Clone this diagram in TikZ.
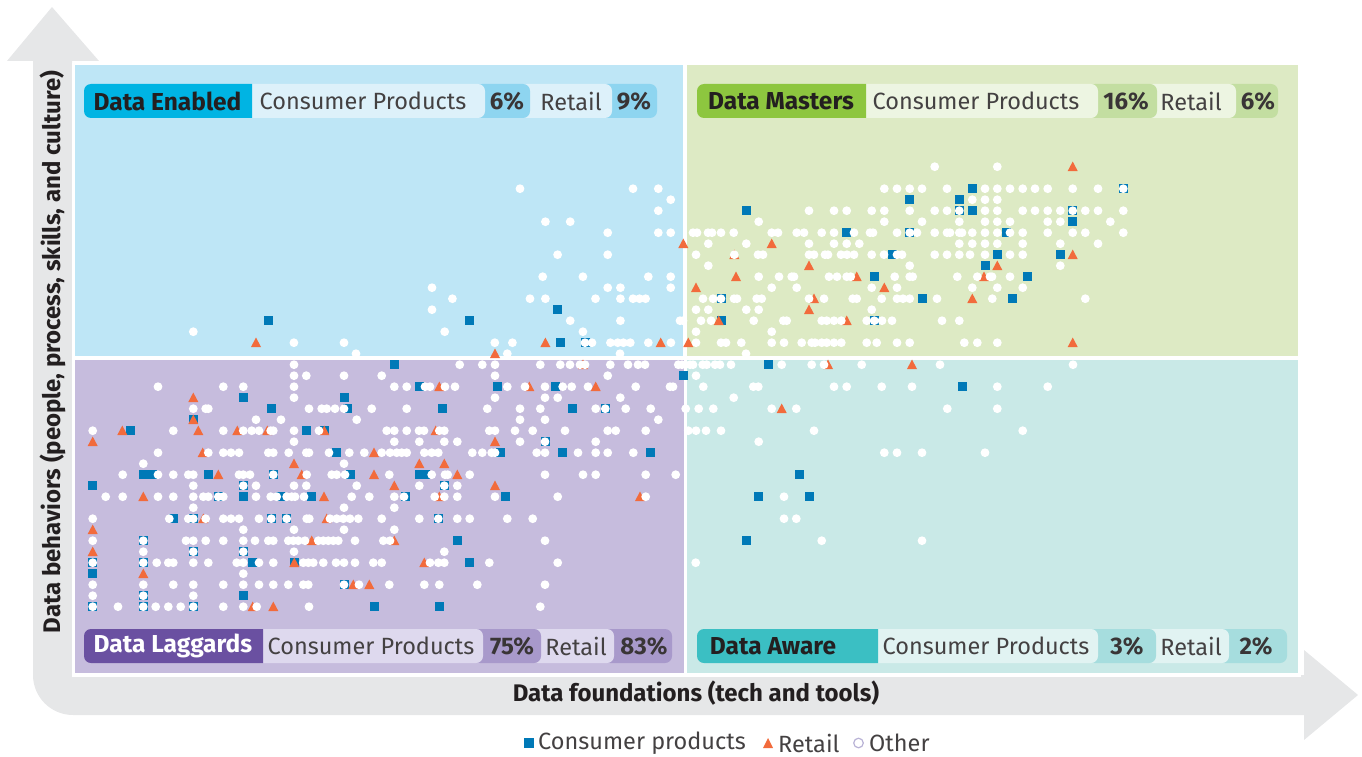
\documentclass[tikz,border=0pt]{standalone}
\usepackage{fontspec}
\setmainfont{Fira Sans}
\usepackage{tikz}
\usetikzlibrary{positioning}

\definecolor{arrowgray}{HTML}{E6E7E8}
\definecolor{enabledbg}{HTML}{BEE6F6}
\definecolor{enableddark}{HTML}{00B4E3}
\definecolor{enabledlight}{HTML}{DDF1FA}
\definecolor{enabledmid}{HTML}{8ED5F0}
\definecolor{mastersbg}{HTML}{DDEAC4}
\definecolor{mastersdark}{HTML}{8DC63F}
\definecolor{masterslight}{HTML}{EDF5E2}
\definecolor{mastersmid}{HTML}{C3DEA1}
\definecolor{laggardsbg}{HTML}{C6BCDD}
\definecolor{laggardsdark}{HTML}{6A50A1}
\definecolor{laggardslight}{HTML}{DED9EE}
\definecolor{laggardsmid}{HTML}{A899CB}
\definecolor{awarebg}{HTML}{C9E9E7}
\definecolor{awaredark}{HTML}{3BBFC3}
\definecolor{awarelight}{HTML}{E1F3F2}
\definecolor{awaremid}{HTML}{A6DDDE}
\definecolor{cpblue}{HTML}{0079B7}
\definecolor{rtorange}{HTML}{F26B3C}
\definecolor{othering}{HTML}{B9B3D6}
\definecolor{inkdark}{HTML}{231F20}

\begin{document}
\begin{tikzpicture}[x=1pt, y=-1pt,
    pillname/.style={font=\fontsize{24.5}{28}\selectfont\bfseries, text=inkdark, inner sep=0},
    pilltext/.style={font=\fontsize{23.5}{27}\selectfont, text=inkdark!85, inner sep=0},
    pillpct/.style={font=\fontsize{24}{27}\selectfont\bfseries, text=inkdark!90, inner sep=0},
    axistext/.style={font=\fontsize{24}{28}\selectfont\bfseries, text=inkdark, inner sep=0},
    legendtext/.style={font=\fontsize{23.5}{27}\selectfont, text=inkdark!85, inner sep=0, anchor=west},
    seg/.style={rounded corners=7},
    cpmark/.style={fill=cpblue}, rtmark/.style={fill=rtorange}, othermark/.style={fill=white}]
    \useasboundingbox (0,0) rectangle (1362,757);

    % Axis arrows
    \fill[arrowgray] (7,61) -- (52,7) -- (99,61) -- (72,61) -- (72,675) -- (1304,675)
    -- (1304,650) -- (1358,695) -- (1304,740) -- (1304,715) -- (73,715)
    arc[start angle=90, end angle=180, radius=40] -- (33,61) -- cycle;

    % Quadrants
    \fill[white] (71.5,63) rectangle (1301,676.5);
    \fill[enabledbg] (75,65) rectangle (683,355.5);
    \fill[mastersbg] (687,65) rectangle (1298,355.5);
    \fill[laggardsbg] (75,359.5) rectangle (684,673);
    \fill[awarebg] (687,359.5) rectangle (1298,673);

    % Consumer products
    \foreach \j/\xs in {2/{972.3,1123.3}, 3/{909.7,959.3}, 4/{746.3,959.3,972.3,1072.7},
      5/{1072.7}, 6/{846.7,909.7,1006.7}, 8/{892,997.3,1060.3}, 9/{985},
      10/{874.3,1027}, 12/{721,922,1012.7}, 13/{557.6}, 14/{268.3,469.6,721,874.3},
      16/{560.3,585}, 18/{394.3,768.3}, 19/{683.3}, 20/{419.3,497.3,555.3,962.3},
      21/{243.3,344}, 22/{271.3,347.3,442.7,572.3,605.3}, 23/{193.3},
      24/{130.7,306,324.3}, 25/{545}, 26/{336.3,500,562.3,650.3},
      28/{143.3,152.7,208.3,273.3,350,419.3,425,799.3}, 29/{92.7,243.3,444.3},
      30/{218.3,243.3,280,311.7,405,505.3,758.3,809.3},
      32/{173.3,193.3,271.3,286.7,438.3}, 34/{143.3,457.3,746.3},
      35/{193.3,243.3}, 36/{92.7,143.3,252.7,294.3,469.3}, 37/{92.7},
      38/{344}, 39/{143.3,243.3}, 40/{92.7,143.3,193.3,374,439.3}}
      \foreach \x in \xs
        \fill[cpmark] ({\x-4.5},{162.2+11*\j}) rectangle ++(9,9);

    % Retail
    \foreach \j/\xs in {0/{1072.7}, 7/{683.3,771.7}, 8/{734.3,1072.7}, 9/{809,997.3},
      10/{736,856.7,984}, 11/{696,884.3}, 12/{814,972.3}, 13/{809},
      14/{718.7,846.7}, 16/{256,545.4,660.7,688.3,1072.7}, 17/{495},
      18/{583,828,912}, 20/{439.3,529.3,595.7}, 21/{193.3}, 22/{781.7},
      23/{193.3}, 24/{122.3,198.3,237.3,267.3,324.3,435.7}, 25/{92.7,495},
      26/{202.7,374}, 27/{294,419.3,444.3}, 28/{218.3,301.7,374,457.3},
      29/{394.3,495}, 30/{143.3,324,439.3,640}, 32/{203.3,326.7}, 33/{92.7},
      34/{311.7,394.3}, 35/{92.7}, 36/{294.3,424.3}, 37/{143.3},
      38/{353.3,369.3}, 40/{252.7,273.3}}
      \foreach \x in \xs
        \fill[rtmark] ({\x-5},{171+11*\j}) -- ++(10,0) -- ++(-5,-9.5) -- cycle;

    % Other
    \foreach \j/\xs in {0/{934.7,997.3},
      2/{520,633,658.3,884.3,897,909.7,922,947,985,997.3,1010,1022.7,1035,1047.7,1072.7,1098,1123.3},
      3/{670.7,972.3,985,997.3},
      4/{658.3,809,834,846.7,871.7,884.3,909.7,934.7,947,959.3,985,997.3,1022.7,1035,1047.7,1060.3,1072.7,1085.3,1098,1123.3},
      5/{545.4,570.2,758.7,884.3,922,959.3,985,997.3,1010,1047.7,1060.3,1110.3},
      6/{607.7,658.3,670.7,693,697,708,712,721,733.7,771.7,778,796.7,804,821.7,834,854,870,873,897,909.7,917,934.7,947,950,959.3,962,972.3,985,997.3,1010,1022.7,1047.7,1072.7,1085.3,1123.3},
      7/{708.3,746.3,809,834,846.7,859.3,959.3,972.3,985,997.3,1022.7,1060.3,1098},
      8/{557.6,607.7,696,734.3,758,763,809,814,825,828,841,847,854,871.7,884,897,902,934.7,947,959.3,970,985,1010,1022.7},
      9/{708.3,909.7,1060.3},
      10/{542.7,582.9,648.3,670.7,758.7,779,791.7,794,829,837,846.7,850.7,894.7,909.7,912.7,957.3,977.3,990,992,1010},
      11/{432,607.7,620.4,670.7,771.7,796.7,871.7,897,972.3,997.3,1022.7},
      12/{452.4,530,545.4,595.5,620.4,633,639.5,645.6,703,713,721,734,737,756.7,761.7,809,824,852.7,856.7,881.7,897,903,909.7,937,992.3,1085.3},
      13/{432,696,708.3,746.3,758.7,871.7},
      14/{570.2,620.4,680,683,701,711,753.7,783.3,786.7,821.7,826.7,834,841.3,866.7,874.3,882,892,942,959.3},
      15/{193.3,444.7,582.9,696,771.7},
      16/{293.9,344,494.8,512.4,585,592,610.4,617.7,623.4,630.3,648.3,670.9,696,721,726,741.3,771.7,784,801.7,811.7,815,821.7,826.7,834,841.3,866.7,876.7,897,909.7,964.3,977.3,997.3},
      17/{356,507.3,620,746},
      18/{294,459.7,482.3,495,540.3,560.3,570,580,585,610.3,628,638,645,678.3,682,690,693,702.7,706.7,715,720,731,781.7,811.7,824,861.7,940,1073},
      19/{294,306.3,344,381.7,495,607.7,696},
      20/{158,223.3,243.3,294,394.3,406.7,425,430,445,455,507.3,525,545,562.7,571.7,588,635.7,670,673,703.3,753.3,758.3,834,846.7,881.7,912,997.3,1047.7},
      21/{294,495,545,557.7,620.3,733.7},
      22/{193.3,205.7,208.3,309,321.7,326.7,335,344,371.7,406.7,487.3,520,540.3,595.7,605.3,625.7,650.7,685.7,698.7,713.3,771.7,796.3,947.3,997.3},
      23/{256,281,356.7,520,545,658.3},
      24/{92.7,173.3,223.3,243.3,251.7,259,270.7,273.3,294,319,386.7,394.3,406.7,419,424,439.3,444.3,489.3,495,515,532.7,565,607.7,615.7,645.7,688.3,696,706,721,814,1022.7},
      25/{294,394.3,419.3,444.3,457.3,520,545,595.7,758.7},
      26/{158,208.3,223.3,231,239,268.3,273.3,288.7,306.3,309,329,349.3,364.3,381.7,390,396.7,401.7,406.7,424.3,431.7,438.3,472.3,482.3,491.7,495,536.7,545,578,595.7,607.7,633.3,884.3,897,922,985},
      27/{143.3,344},
      28/{122.7,158,173.3,188.3,193.3,239,243.3,250,273.3,306.7,331.7,336.7,345,389.3,431.7,445,447.7,469.7,545,583,595.7,645.7,675.7},
      29/{193.3,243.3,256,294,306.3,356.7,419.3,444.3,457.3},
      30/{105.7,122.7,158,173.3,193.3,203.3,208.3,218.3,223.3,256,270.7,276.7,286.7,291.7,295,304,351.7,369.3,394.3,404,434.7,444.3,457.3,495,557.7,645.7,784},
      31/{193.3,344,394.3},
      32/{92.7,169.3,188.3,193.3,205.7,223.3,231,239,259,271.3,286.7,306.7,309.3,330,336.7,343.3,350,358.3,381.7,419.3,438.3,457.3,469.7,507.3,532.7,784,796.3},
      33/{243.3,294,344,394.3},
      34/{92.7,143.3,186,193.3,205.7,223.3,243.3,255,268.3,273.3,288.3,293.3,298.3,305,318.3,323.3,328.3,333.3,338.3,355,383.3,390,545,821.7,922},
      35/{143.3,193.3,243.3,294,444.3},
      36/{92.7,143.3,156.7,168.3,173.3,193.3,208.3,236.7,243.3,259,273.3,303.3,308.3,313.3,323.3,336,344,355,373.3,381.7,430,438.3,444.3,489.3,557.7,695.7},
      37/{243.3},
      38/{92.7,143.3,173.3,193.3,223.3,243.3,259,273.3,288.3,303.3,308.3,344,359,389.3,424.3,439.3,477.3,545},
      39/{92.7,143.3,193.3},
      40/{92.7,118,143.3,155.7,168.3,180.7,193.3,223.3,243.3,256.7,309,540.3}}
      \foreach \x in \xs
        \fill[othermark] (\x,{166.7+11*\j}) circle (4.4);

    % Data Enabled pill
    \fill[enabledmid, seg] (600,84) rectangle (657,118);
    \fill[enabledlight, seg] (520,84) rectangle (612,118);
    \fill[enabledmid, seg] (475,84) rectangle (530,118);
    \fill[enabledlight, seg] (242,84) rectangle (485,118);
    \fill[enableddark, seg] (252,84) -- (84,84) -- (84,118) -- (252,118);
    \node[pillname] (enabledName) at (167.5,101) {Data Enabled};
    \node[pilltext] (enabledCP) at (363,101) {Consumer Products};
    \node[pillpct] (enabledCPpct) at (507,101) {6\%};
    \node[pilltext] (enabledRT) at (571,101) {Retail};
    \node[pillpct] (enabledRTpct) at (634,101) {9\%};

    % Data Masters pill
    \fill[mastersmid, seg] (1225,84) rectangle (1278,118);
    \fill[masterslight, seg] (1146,84) rectangle (1236,118);
    \fill[mastersmid, seg] (1088,84) rectangle (1157,118);
    \fill[masterslight, seg] (856,84) rectangle (1098,118);
    \fill[mastersdark, seg] (866,84) -- (697,84) -- (697,118) -- (866,118);
    \node[pillname] (mastersName) at (781,101) {Data Masters};
    \node[pilltext] (mastersCP) at (976,101) {Consumer Products};
    \node[pillpct] (mastersCPpct) at (1126,101) {16\%};
    \node[pilltext] (mastersRT) at (1191,101) {Retail};
    \node[pillpct] (mastersRTpct) at (1258,101) {6\%};

    % Data Laggards pill
    \fill[laggardsmid, seg] (603,629) rectangle (672,663);
    \fill[laggardslight, seg] (531,629) rectangle (614,663);
    \fill[laggardsmid, seg] (473,629) rectangle (541,663);
    \fill[laggardslight, seg] (253,629) rectangle (483,663);
    \fill[laggardsdark, seg] (263,629) -- (84,629) -- (84,663) -- (263,663);
    \node[pillname, text=white] (laggardsName) at (173,646) {Data Laggards};
    \node[pilltext] (laggardsCP) at (371,646) {Consumer Products};
    \node[pillpct] (laggardsCPpct) at (512,646) {75\%};
    \node[pilltext] (laggardsRT) at (576,646) {Retail};
    \node[pillpct] (laggardsRTpct) at (644,646) {83\%};

    % Data Aware pill
    \fill[awaremid, seg] (1218,629) rectangle (1287,663);
    \fill[awarelight, seg] (1146,629) rectangle (1229,663);
    \fill[awaremid, seg] (1088,629) rectangle (1156,663);
    \fill[awarelight, seg] (868,629) rectangle (1098,663);
    \fill[awaredark, seg] (878,629) -- (697,629) -- (697,663) -- (878,663);
    \node[pillname] (awareName) at (773,646) {Data Aware};
    \node[pilltext] (awareCP) at (986,646) {Consumer Products};
    \node[pillpct] (awareCPpct) at (1127,646) {3\%};
    \node[pilltext] (awareRT) at (1191,646) {Retail};
    \node[pillpct] (awareRTpct) at (1256,646) {2\%};

    % Axis titles
    \node[axistext] (xTitle) at (696,693) {Data foundations (tech and tools)};
    \node[axistext, rotate=90] (yTitle) at (53,352) {Data behaviors (people, process, skills, and culture)};

    % Legend
    \fill[cpmark] (524,738) rectangle (534,748);
    \node[legendtext] (legendCP) at (538,743) {Consumer products};
    \fill[rtmark] (763,748) -- (773,748) -- (768,738) -- cycle;
    \node[legendtext] (legendRT) at (778,743) {Retail};
    \draw[othering, fill=white, line width=1.2] (858.5,743) circle (4.8);
    \node[legendtext] (legendOther) at (869,743) {Other};
\end{tikzpicture}
\end{document}
